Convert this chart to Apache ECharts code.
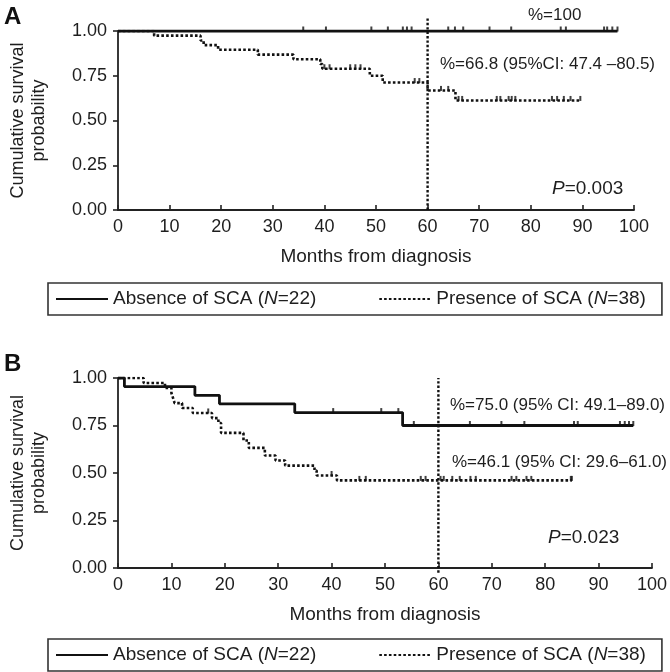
<!DOCTYPE html>
<html><head><meta charset="utf-8">
<script src="https://cdn.jsdelivr.net/npm/echarts@6/dist/echarts.min.js"></script>
<style>html,body{margin:0;padding:0;background:#fff}#c{width:670px;height:672px}</style>
</head><body><div id="c"></div>
<script>
// ---------- data ----------
const xTicks = [0, 10, 20, 30, 40, 50, 60, 70, 80, 90, 100];
const yTicks = [0, 0.25, 0.5, 0.75, 1.0];
const refMonth = 60;
const legAbs = 'Absence of SCA (N=22)';
const legPres = 'Presence of SCA (N=38)';

// Panel A
const aAbsTime = [0, 96.8];
const aAbsSurv = [1, 1];
const aAbsCensor = [35.9, 40.3, 49.1, 52.3, 55.2, 56, 56.9, 64, 65.3, 66.9, 72, 76.2, 85.8, 86.8, 94.2, 94.8, 95.8, 96.8];
const aPresTime = [0, 7.0, 16.0, 16.6, 19.4, 27.1, 34.0, 39.2, 39.6, 48.8, 51.3, 60.0, 65.4, 89.6];
const aPresSurv = [1, 0.974, 0.947, 0.921, 0.895, 0.868, 0.842, 0.816, 0.789, 0.750, 0.712, 0.668, 0.612, 0.612];
const aPresCensor = [40, 41, 45, 46, 47, 57.5, 58.4, 62.6, 64, 66, 66.7, 73.4, 74.1, 75.7, 76.3, 77, 84.1, 85.1, 86.4, 87.7, 89.6];
const aRefSpan = [0, 1.08];

// Panel B
const bAbsTime = [0, 1.2, 14.4, 19.0, 33.1, 53.3, 96.5];
const bAbsSurv = [1, 0.955, 0.909, 0.864, 0.818, 0.750, 0.750];
const bAbsCensor = [40.3, 49.3, 52.5, 55.4, 65.9, 71.8, 76.1, 85.4, 86.1, 94, 94.9, 95.7, 96.5];
const bPresTime = [0, 4.8, 8.8, 10.0, 10.3, 10.6, 12.0, 14.0, 17.6, 18.8, 19.3, 23.5, 24.5, 27.5, 29.5, 31.3, 36.8, 37.2, 41.0, 85.0];
const bPresSurv = [1, 0.974, 0.947, 0.921, 0.895, 0.868, 0.842, 0.816, 0.789, 0.763, 0.711, 0.671, 0.632, 0.592, 0.566, 0.539, 0.513, 0.487, 0.461, 0.461];
const bPresCensor = [16.9, 40.0, 45.2, 46.4, 56.7, 57.6, 60.4, 61, 62.6, 64, 66, 67, 73.7, 74.6, 76.5, 77.4, 84.8, 85.0];
const bRefSpan = [-0.025, 1.0];

// ---------- helpers ----------
const FONT = '"Liberation Sans", Arial, Helvetica, sans-serif';
const INK = '#111';
const TXT = '#1e1e1e';
const zip = (t, s) => t.map((v, i) => [v, s[i]]);
const survAt = (t, s, time) => { let v = s[0]; for (let i = 0; i < t.length; i++) { if (t[i] <= time) v = s[i]; } return v; };

function panel(idx, absT, absS, absC, presT, presS, presC, refSpan) {
  return [
    { type: 'line', name: legAbs, xAxisIndex: idx, yAxisIndex: idx, data: zip(absT, absS), step: 'end',
      symbol: 'none', lineStyle: { color: INK, width: 2.8, type: 'solid' }, itemStyle: { color: INK }, z: 4 },
    { type: 'line', name: legPres, xAxisIndex: idx, yAxisIndex: idx, data: zip(presT, presS), step: 'end',
      symbol: 'none', lineStyle: { color: INK, width: 2.6, type: [2.6, 2.2] }, itemStyle: { color: INK }, z: 3 },
    { type: 'line', name: 'ref' + idx, xAxisIndex: idx, yAxisIndex: idx, data: refSpan.map(v => [refMonth, v]),
      symbol: 'none', clip: false, silent: true, lineStyle: { color: INK, width: 2.4, type: [2.4, 2] }, z: 2 },
    { type: 'scatter', name: 'cA' + idx, xAxisIndex: idx, yAxisIndex: idx, silent: true,
      data: absC.map(t => [t, survAt(absT, absS, t)]), symbol: 'rect', symbolSize: [2, 5], symbolOffset: [0, -2],
      itemStyle: { color: INK }, z: 5 },
    { type: 'scatter', name: 'cP' + idx, xAxisIndex: idx, yAxisIndex: idx, silent: true,
      data: presC.map(t => [t, survAt(presT, presS, t)]), symbol: 'rect', symbolSize: [2, 5], symbolOffset: [0, -2],
      itemStyle: { color: INK }, z: 5 }
  ];
}

const axisLine = { show: true, lineStyle: { color: '#222', width: 1.8 } };
function xAx(idx) {
  return { type: 'value', gridIndex: idx, min: xTicks[0], max: xTicks[xTicks.length - 1], interval: xTicks[1] - xTicks[0],
    splitLine: { show: false }, axisLine: axisLine,
    axisTick: { show: true, inside: true, length: 5, lineStyle: { color: '#222', width: 1.6 } },
    axisLabel: { fontSize: 18, fontFamily: FONT, color: TXT, margin: 8 },
    name: 'Months from diagnosis', nameLocation: 'middle', nameGap: 37,
    nameTextStyle: { fontSize: 19, fontFamily: FONT, color: TXT } };
}
function yAx(idx) {
  return { type: 'value', gridIndex: idx, min: yTicks[0], max: yTicks[yTicks.length - 1], interval: yTicks[1] - yTicks[0],
    splitLine: { show: false }, axisLine: axisLine,
    axisTick: { show: true, inside: false, length: 5, lineStyle: { color: '#222', width: 1.6 } },
    axisLabel: { fontSize: 18, fontFamily: FONT, color: TXT, margin: 11, formatter: v => v.toFixed(2) },
    name: 'Cumulative survival\nprobability', nameLocation: 'middle', nameGap: 68,
    nameTextStyle: { fontSize: 18, fontFamily: FONT, color: TXT, lineHeight: 21 } };
}
function legend(top) {
  return { data: [legAbs, legPres], left: 48, top: top, orient: 'horizontal', selectedMode: false,
    itemWidth: 52, itemHeight: 14, itemGap: 62, padding: [5, 16, 5, 7],
    borderColor: '#333', borderWidth: 1.6, borderRadius: 0,
    itemStyle: { color: 'rgba(0,0,0,0)', borderColor: 'rgba(0,0,0,0)', borderWidth: 0, opacity: 0 },
    formatter: n => n.replace('N=', '{i|N}='),
    textStyle: { fontSize: 19, fontFamily: FONT, color: TXT, lineHeight: 22,
      rich: { i: { fontStyle: 'italic', fontSize: 19, fontFamily: FONT, color: TXT } } } };
}
function txt(x, y, text, size, extra) {
  return { type: 'text', x: x, y: y, silent: true,
    style: Object.assign({ text: text, fontSize: size, fontFamily: FONT, fill: TXT, verticalAlign: 'middle', align: 'left',
      rich: { i: { fontStyle: 'italic', fontSize: size, fontFamily: FONT, fill: TXT } } }, extra || {}) };
}

const chart = echarts.init(document.getElementById('c'), null, { renderer: 'canvas' });
chart.setOption({
  animation: false,
  backgroundColor: '#fff',
  grid: [
    { left: 112, top: 31, width: 522, height: 179 },
    { left: 114, top: 378, width: 540, height: 190 }
  ],
  xAxis: [xAx(0), xAx(1)],
  yAxis: [yAx(0), yAx(1)],
  legend: [legend(283), legend(639)],
  series: [].concat(
    panel(0, aAbsTime, aAbsSurv, aAbsCensor, aPresTime, aPresSurv, aPresCensor, aRefSpan),
    panel(1, bAbsTime, bAbsSurv, bAbsCensor, bPresTime, bPresSurv, bPresCensor, bRefSpan)
  ),
  graphic: [
    txt(4, 17, 'A', 24, { fontWeight: 'bold', fill: INK }),
    txt(4, 364, 'B', 24, { fontWeight: 'bold', fill: INK }),
    txt(528, 15, '%=100', 17),
    txt(440, 64, '%=66.8 (95%CI: 47.4 \u201380.5)', 17),
    txt(552, 189, '{i|P}=0.003', 19),
    txt(450, 405, '%=75.0 (95% CI: 49.1\u201389.0)', 17),
    txt(452, 462, '%=46.1 (95% CI: 29.6\u201361.0)', 17),
    txt(548, 538, '{i|P}=0.023', 19)
  ]
});
</script></body></html>
